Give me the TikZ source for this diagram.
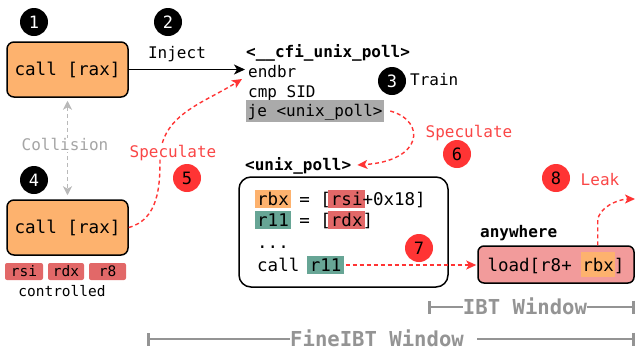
\documentclass[tikz,border=0pt]{standalone}
\usepackage{fontspec}
\setmainfont{DejaVu Sans Mono}
\usetikzlibrary{arrows.meta,calc}

\definecolor{boxorange}{RGB}{253,178,110}
\definecolor{regred}{RGB}{226,104,104}
\definecolor{regteal}{RGB}{103,165,149}
\definecolor{loadpink}{RGB}{242,155,155}
\definecolor{spred}{RGB}{255,52,52}
\definecolor{sptext}{RGB}{250,70,70}
\definecolor{hlgray}{RGB}{170,170,170}
\definecolor{colgray}{RGB}{185,185,185}
\definecolor{coltext}{RGB}{165,165,165}
\definecolor{wingray}{RGB}{148,148,148}

\newcommand\fs[1]{\fontsize{#1}{#1}\selectfont}
\newlength\hlwd
% \hlbox{colour}{side pad}{depth}{height}{text}: coloured patch behind a token
\newcommand\hlbox[5]{\settowidth\hlwd{#5}\addtolength\hlwd{2\dimexpr#2\relax}%
  \rlap{\hspace{-#2}\textcolor{#1}{\rule[-#3]{\hlwd}{#4}}}#5}
\newcommand\hl[2]{\hlbox{#1}{2.5pt}{2.8pt}{18pt}{#2}}

\begin{document}
\begin{tikzpicture}[x=1pt,y=-1pt,
  numc/.style={circle, fill=black, text=white, minimum size=28pt, inner sep=0pt, font=\fs{17}},
  redc/.style={numc, fill=spred, text=black},
  callbox/.style={draw=black, line width=1.5pt, rounded corners=7pt, fill=boxorange,
    minimum width=121pt, minimum height=55pt, font=\fs{17.6}, inner sep=0pt},
  code/.style={anchor=west, inner sep=0pt, text height=11.7pt, text depth=0pt, font=\fs{16}},
  bcode/.style={code, font=\fs{16}\bfseries},
  body/.style={anchor=west, inner sep=0pt, text height=12.8pt, text depth=0pt, font=\fs{17.5}},
  reg/.style={fill=regred, rounded corners=2pt, minimum height=17pt, inner sep=0pt,
    font=\fs{14.5}, text height=10.5pt, text depth=0pt},
  redtxt/.style={text=sptext, font=\fs{16}, inner sep=1pt, text height=11.7pt, text depth=0pt},
  spec/.style={draw=spred, line width=1.4pt, dash pattern=on 4pt off 3pt,
    -{Stealth[length=10pt,width=9pt,inset=2.5pt]}},
  wbar/.style={draw=wingray, line width=2.8pt,
    {Bar[width=13pt]}-{Bar[width=13pt]}},
  wtxt/.style={fill=white, text=wingray, inner sep=0pt, font=\fs{20.6}\bfseries,
    text height=15pt, text depth=0pt},
]
\useasboundingbox (0,0) rectangle (637,354);

% ---- callers on the left ----
\node[numc] (n1) at (34,22) {1};
\node[callbox] (b1) at (67.5,69.5) {call [rax]};
\node[numc] (n4) at (34,180) {4};
\node[callbox] (b2) at (67.5,227.5) {call [rax]};

\node[reg, minimum width=38pt] (rsi) at (24,271.5) {rsi};
\node[reg, minimum width=36pt] (rdx) at (66,271.5) {rdx};
\node[reg, minimum width=37pt] (r8) at (107.5,271.5) {r8};
\node[inner sep=0pt, font=\fs{14.5}, text height=10.5pt, text depth=0pt] (ctl) at (62,291) {controlled};

% ---- FineIBT preamble of the target ----
\node[numc] (n2) at (168,22) {2};
\node[code, anchor=center] (inj) at (177,53) {Inject};
\node[bcode] (cfi) at (246,52) {<\_\_cfi\_unix\_poll>};
\node[code] (endbr) at (248,72) {endbr};
\node[code] (cmp) at (248,92) {cmp SID};
\node[code, fill=hlgray, inner xsep=1.5pt, inner ysep=5.2pt] (je) at (246,111) {je <unix\_poll>};
\node[numc] (n3) at (392,81) {3};
\node[code] (train) at (410,80) {Train};

% ---- body of unix_poll ----
\node[bcode] (upl) at (245,165) {<unix\_poll>};
\node[draw=black, line width=1.5pt, rounded corners=12pt, minimum width=209pt,
  minimum height=110pt] (ub) at (343.5,232) {};
\node[body] (l1) at (257,199) {\hl{boxorange}{rbx} = [\hl{regred}{rsi}+0x18]};
\node[body] (l2) at (257,220) {\hl{regteal}{r11} = [\hl{regred}{rdx}]};
\node[body] (l3) at (257,242) {...};
\node[body] (l4) at (257,265) {call \hl{regteal}{r11}};
\node[redc] (n7) at (419,248) {7};

% ---- gadget reached anywhere ----
\node[bcode] (anyw) at (480,232) {anywhere};
\node[draw=black, line width=1.5pt, rounded corners=6pt, fill=loadpink,
  minimum width=156pt, minimum height=37pt, inner sep=0pt, font=\fs{17.5}] (lb)
  at (556,264.5) {load[r8+ \hlbox{boxorange}{1pt}{5.5pt}{25pt}{rbx}]};
\node[redc] (n8) at (556,178) {8};

% ---- connectors ----
\draw[line width=1.5pt, -{Stealth[length=11pt,width=10pt,inset=3pt]}, shorten >=3pt]
  (b1.east) -- (b1.east -| endbr.west);

\draw[draw=colgray, line width=1.4pt, dash pattern=on 4pt off 3pt,
  {Stealth[length=9pt,width=9pt,inset=2.5pt]}-{Stealth[length=9pt,width=9pt,inset=2.5pt]},
  shorten <=3pt, shorten >=4pt] (b1.south) -- (b2.north);
\node[fill=white, text=coltext, font=\fs{16}, inner sep=1pt, text height=11.7pt, text depth=0pt]
  (col) at (65,145) {Collision};

\coordinate (s5mid) at (160,160);
\coordinate (s5end) at (242,79);
\draw[spec] (b2.east) .. controls +(30,-8) and +(0,25) .. (s5mid)
  .. controls +(0,-45) and +(-40,25) .. (s5end);
\node[redtxt, fill=white] (sp5) at (173,152) {Speculate};
\node[redc] (n5) at (187,178) {5};

\draw[spec] ($(je.east)+(6,0)$) .. controls +(36,10) and +(66,-4) .. ($(upl.east)+(6,0)$);
\node[redtxt] (sp6) at (469,132) {Speculate};
\node[redc] (n6) at (457,154) {6};

\draw[spec, shorten <=4pt, shorten >=1pt] (l4.east) -- (l4.east -| lb.west);

\coordinate (leakend) at (635,199);
\draw[spec] ($(lb.north east)+(-37,0)$) -- ++(0,-24)
  .. controls +(0,-14) and +(-16,0) .. (leakend);
\node[redtxt] (leak) at (600,180) {Leak};

% ---- windows ----
\coordinate (ibtL) at (428,307);
\coordinate (ibtR) at (635,307);
\draw[wbar] (ibtL) -- (ibtR);
\node[wtxt] (ibt) at (525,307) {IBT Window};

\coordinate (fineL) at (147,339);
\coordinate (fineR) at (635,339);
\draw[wbar] (fineL) -- (fineR);
\node[wtxt, anchor=west] (fine) at (290,339) {FineIBT Window\hspace*{13pt}};
\end{tikzpicture}
\end{document}
